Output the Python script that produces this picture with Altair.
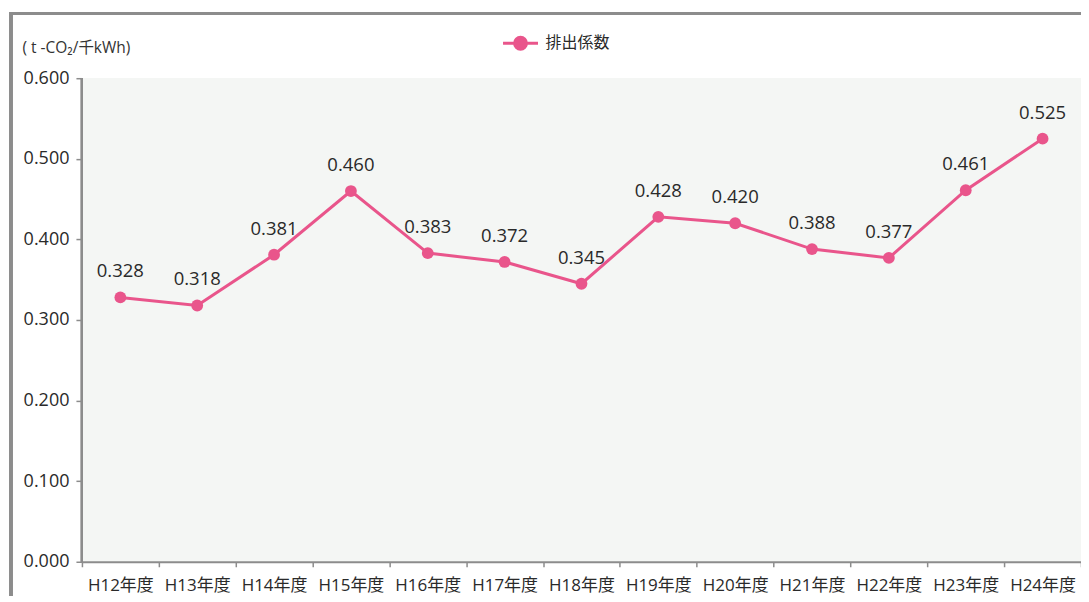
import altair as alt
import pandas as pd

years = ["H12年度", "H13年度", "H14年度", "H15年度", "H16年度", "H17年度", "H18年度",
         "H19年度", "H20年度", "H21年度", "H22年度", "H23年度", "H24年度"]
values = [0.328, 0.318, 0.381, 0.460, 0.383, 0.372, 0.345,
          0.428, 0.420, 0.388, 0.377, 0.461, 0.525]
series_name = "排出係数"

df = pd.DataFrame({"year": years, "value": values, "series": series_name})

PINK = "#e9558b"
FONT = "Open Sans, Noto Sans CJK JP, sans-serif"
TXT = "#2a2a2a"

x = alt.X("year:N", sort=years, title=None,
          scale=alt.Scale(paddingInner=0, paddingOuter=0),
          axis=alt.Axis(labelAngle=0, tickBand="extent", grid=False, zindex=1,
                        domainColor="#8c8c8c", domainWidth=2, tickColor="#8c8c8c",
                        tickWidth=1.5, tickSize=5, labelFontSize=17, labelColor=TXT,
                        labelPadding=11, labelFont=FONT))
y = alt.Y("value:Q", title="( t -CO₂/千kWh)",
          scale=alt.Scale(domain=[0, 0.6], nice=False),
          axis=alt.Axis(values=[0, 0.1, 0.2, 0.3, 0.4, 0.5, 0.6], format=".3f",
                        gridColor="#9a9a9a", gridWidth=1, domainColor="#8c8c8c",
                        domainWidth=2, tickColor="#8c8c8c", tickSize=6, tickWidth=1.5,
                        labelFontSize=18, labelColor=TXT, labelPadding=7,
                        labelFont=FONT, titleAngle=0, titleX=-60, titleY=-31,
                        titleAlign="left", titleBaseline="middle", titleFontSize=15.5,
                        titleFontWeight="normal", titleColor="#333", titleFont=FONT))

legend = alt.Legend(title=None, orient="none", legendX=420, legendY=-54,
                    symbolType="M-1,0L1,0M-0.34,0A0.34,0.34 0 1,0 0.34,0A0.34,0.34 0 1,0 -0.34,0Z",
                    symbolSize=1225, symbolStrokeWidth=3, symbolFillColor=PINK,
                    symbolStrokeColor=PINK, labelFontSize=16, labelColor=TXT,
                    labelFont=FONT, labelOffset=6)

color = alt.Color("series:N", scale=alt.Scale(range=[PINK]), legend=legend)

bg = alt.Chart(df).mark_rect(fill="#f4f6f4", stroke=None).encode(
    x=alt.value(0), x2=alt.value(1000), y=alt.value(0), y2=alt.value(484))
yline = alt.Chart(df).mark_rule(color="#8c8c8c", strokeWidth=2).encode(
    x=alt.value(0), y=alt.value(0), y2=alt.value(484))
line = alt.Chart(df).mark_line(strokeWidth=3).encode(x=x, y=y, color=color)
pts = alt.Chart(df).mark_point(filled=True, size=140, opacity=1).encode(
    x=x, y=y, color=alt.Color("series:N", scale=alt.Scale(range=[PINK]), legend=None))
labels = alt.Chart(df).mark_text(dy=-20, baseline="alphabetic", fontSize=18.5,
                                  color=TXT, font=FONT).encode(
    x=x, y=y, text=alt.Text("value:Q", format=".3f"))

border = alt.Chart(df).mark_rect(fill=None, stroke="#8c8c8c", strokeWidth=2.5,
                                 clip=False).encode(
    x=alt.value(-71), x2=alt.value(1020), y=alt.value(-65), y2=alt.value(600))

chart = alt.layer(bg, yline, border, line, pts, labels).properties(
    width=1000, height=484,
    autosize=alt.AutoSizeParams(type="none"),
    padding={"left": 74, "top": 70, "right": 0, "bottom": 34},
).configure_view(stroke=None).configure(background="white")

chart.save("out.html", embed_options={"renderer": "svg", "actions": False})
